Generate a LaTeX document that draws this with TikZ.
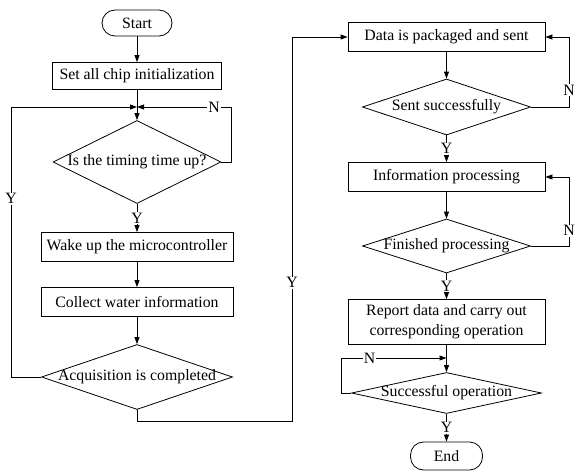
\documentclass[tikz,border=0pt]{standalone}
\usepackage{fontspec}
\setmainfont{Liberation Serif}
\usetikzlibrary{shapes.geometric,arrows.meta}
\newcommand\zerow[1]{\makebox[0pt]{#1}}
\begin{document}
\begin{tikzpicture}[x=1pt,y=-1pt,
  font=\fontsize{15.8}{18}\selectfont,
  line width=0.8pt,
  procbox/.style={draw, rectangle, inner sep=0pt, align=center},
  termbox/.style={draw, rectangle, rounded corners=13pt, inner sep=0pt},
  decbox/.style={draw, diamond, inner sep=0pt, aspect=1},
  arr/.style={-{Triangle[length=7pt,width=5pt]}},
  lbl/.style={fill=white, inner sep=1pt}]
\useasboundingbox (0,0) rectangle (576,471);

% left column
\node[termbox, minimum width=70pt, minimum height=26pt] (start) at (137,23) {Start};
\node[procbox, minimum width=169pt, minimum height=27pt] (init) at (137,76) {Set all chip initialization};
\node[decbox, minimum width=168pt, minimum height=83pt] (timer) at (137,162) {\zerow{Is the timing time up?}};
\node[procbox, minimum width=192pt, minimum height=29pt] (wake) at (137,247) {Wake up the microcontroller};
\node[procbox, minimum width=192pt, minimum height=29pt] (collect) at (137,302) {Collect water information};
\node[decbox, minimum width=191pt, minimum height=65pt] (acq) at (137,377) {\zerow{Acquisition is completed}};

% right column
\node[procbox, minimum width=197pt, minimum height=29pt] (send) at (446.5,37) {Data is packaged and sent};
\node[decbox, minimum width=168pt, minimum height=56pt] (sent) at (446.5,107) {\zerow{Sent successfully}};
\node[procbox, minimum width=197pt, minimum height=29pt] (info) at (446.5,177) {Information processing};
\node[decbox, minimum width=168pt, minimum height=54pt] (fin) at (446.5,246) {\zerow{Finished processing}};
\node[procbox, minimum width=197pt, minimum height=45pt, font=\fontsize{15.8}{20}\selectfont] (report) at (446.5,322) {Report data and carry out\\corresponding operation};
\node[decbox, minimum width=190pt, minimum height=41pt] (op) at (446.5,393) {\zerow{Successful operation}};
\node[termbox, minimum width=72pt, minimum height=28pt] (stop) at (446.5,456) {End};

% junctions and bends
\coordinate (j1) at (137,107);
\coordinate (j2) at (446.5,358);
\coordinate (tR) at (231,107);
\coordinate (yL) at (11,107);
\coordinate (bA) at (137,421);
\coordinate (bB) at (292,421);
\coordinate (bC) at (292,37);
\coordinate (sR) at (569,37);
\coordinate (fR) at (569,177);
\coordinate (oL) at (341,358);

% left column connectors
\draw[arr] (start) -- (init);
\draw (init) -- (j1);
\draw[arr] (j1) -- (timer.north);
\draw[arr] (timer.east) -| (tR) -- node[lbl, pos=0.18] {N} (j1);
\draw[arr] (timer.south) -- node[lbl] {Y} (wake);
\draw[arr] (wake) -- (collect);
\draw[arr] (collect) -- (acq.north);
\draw[arr] (acq.west) -| node[lbl, pos=0.83] {Y} (yL) -- (j1);

% transfer to the right column
\draw[arr] (acq.south) -- (bA) -- (bB) -- node[lbl, pos=0.36] {Y} (bC) -- (send.west);

% right column connectors
\draw[arr] (send) -- (sent.north);
\draw[arr] (sent.east) -| node[lbl, pos=0.62] {N} (sR) -- (send.east);
\draw[arr] (sent.south) -- node[lbl] {Y} (info);
\draw[arr] (info) -- (fin.north);
\draw[arr] (fin.east) -| node[lbl, pos=0.61] {N} (fR) -- (info.east);
\draw[arr] (fin.south) -- node[lbl] {Y} (report);
\draw (report) -- (j2);
\draw[arr] (j2) -- (op.north);
\draw[arr] (op.west) -| (oL) -- node[lbl, pos=0.27] {N} (j2);
\draw[arr] (op.south) -- node[lbl] {Y} (stop);
\end{tikzpicture}
\end{document}
